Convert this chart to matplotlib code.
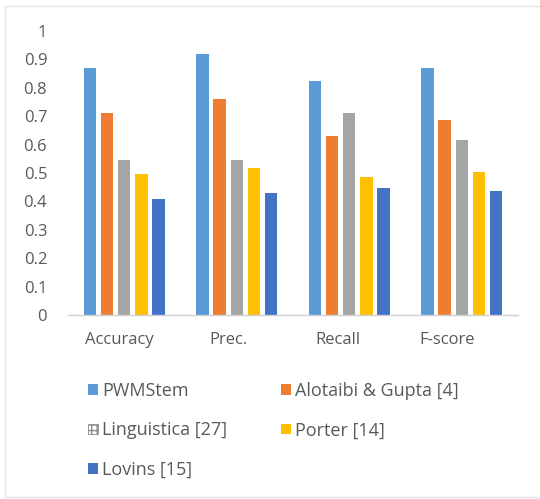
import matplotlib
matplotlib.use("Agg")
import matplotlib.pyplot as plt
import numpy as np
from matplotlib.patches import Patch, Rectangle

plt.rcParams['font.family'] = ['Open Sans', 'DejaVu Sans']

categories = ["Accuracy", "Prec.", "Recall", "F-score"]
series_names = ["PWMStem", "Alotaibi & Gupta [4]", "Linguistica [27]", "Porter [14]", "Lovins [15]"]
pwmstem = [0.87, 0.92, 0.825, 0.87]
alotaibi = [0.71, 0.76, 0.63, 0.685]
linguistica = [0.547, 0.547, 0.71, 0.617]
porter = [0.497, 0.517, 0.485, 0.505]
lovins = [0.41, 0.428, 0.446, 0.435]
yticks = [0, 0.1, 0.2, 0.3, 0.4, 0.5, 0.6, 0.7, 0.8, 0.9, 1]
ytick_labels = ["0", "0.1", "0.2", "0.3", "0.4", "0.5", "0.6", "0.7", "0.8", "0.9", "1"]

colors = ["#5B9BD5", "#ED7D31", "#A5A5A5", "#FFC000", "#4472C4"]
text_color = "#595959"

W, H = 540, 499
fig = plt.figure(figsize=(W / 100, H / 100), dpi=100)
fig.patch.set_facecolor("white")

# faint outer frame
fig.add_artist(Rectangle((5 / W, 1 - 497 / H), 1.0, (497 - 6) / H, transform=fig.transFigure,
                         fill=False, edgecolor="#e4e4e4", linewidth=1.0))

ax = fig.add_axes([68 / W, 1 - 315 / H, (518 - 68) / W, (315 - 31) / H])
x = np.arange(len(categories))
step = 0.153
width = 0.11
all_series = [pwmstem, alotaibi, linguistica, porter, lovins]
for i, (vals, c, name) in enumerate(zip(all_series, colors, series_names)):
    ax.bar(x + (i - 2) * step, vals, width=width, color=c, label=name)

ax.set_xlim(-0.5, 3.5)
ax.set_ylim(0, 1)
ax.set_yticks(yticks)
ax.set_yticklabels(ytick_labels)
ax.set_xticks(x * 0.972 - 0.045)
ax.set_xticklabels(categories)
for s in ["top", "right", "left"]:
    ax.spines[s].set_visible(False)
ax.spines["bottom"].set_color("#d0d0d0")
ax.spines["bottom"].set_linewidth(1.0)
ax.tick_params(axis="both", length=0, labelsize=12, labelcolor=text_color)
ax.tick_params(axis="y", pad=15)
ax.tick_params(axis="x", pad=12)

# legend, filled row by row across two columns
order = [0, 2, 4, 1, 3]
handles = [Patch(facecolor=colors[0]), Patch(facecolor=colors[1]),
           Patch(facecolor="white", edgecolor="#8a8a8a", hatch="+++", linewidth=0.6),
           Patch(facecolor=colors[3]), Patch(facecolor=colors[4])]
leg = fig.legend([handles[i] for i in order], [series_names[i] for i in order],
                 ncol=2, loc="upper left",
                 bbox_to_anchor=(72 / W, 1 - 366 / H), frameon=False,
                 fontsize=13, handlelength=0.55, handleheight=0.55, handletextpad=0.2,
                 columnspacing=3.0, labelspacing=1.17)
for t in leg.get_texts():
    t.set_color(text_color)

fig.savefig("out.png", dpi=100, facecolor="white")
